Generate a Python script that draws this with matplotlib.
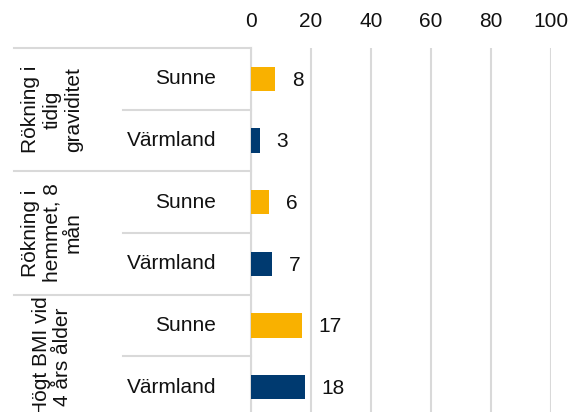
import matplotlib
matplotlib.use("Agg")
import matplotlib.pyplot as plt

plt.rcParams['font.family'] = ['Liberation Sans', 'DejaVu Sans']

groups = ["Rökning i\ntidig\ngraviditet", "Rökning i\nhemmet, 8\nmån", "Högt BMI vid\n4 års ålder"]
regions = ["Sunne", "Värmland"]
values = [8, 3, 6, 7, 17, 18]
colors = ["#F9B100", "#003A70"]
xticks = [0, 20, 40, 60, 80, 100]

W, H = 570, 412
fig = plt.figure(figsize=(W / 100, H / 100), dpi=100)

top = 1 - 48 / H
bottom = 1 - 418 / H
left = 251 / W
right = 551 / W
grid_c = "#D9D9D9"
txt_c = "#111111"
fs = 15

ax = fig.add_axes([left, bottom, right - left, top - bottom])
n = len(values)
ypos = list(range(n))
bar_colors = [colors[i % 2] for i in range(n)]
ax.barh(ypos, values, height=0.39, color=bar_colors, zorder=3)
for y, v in zip(ypos, values):
    ax.annotate(str(v), (v, y), xytext=(12, -1), textcoords="offset points",
                ha="left", va="center", fontsize=fs, color=txt_c)

ax.set_xlim(0, 100)
ax.set_ylim(n - 0.5, -0.5)
ax.xaxis.tick_top()
ax.set_xticks(xticks)
ax.tick_params(axis="x", length=0, pad=12, labelsize=fs, colors=txt_c)
ax.set_yticks([])
ax.grid(axis="x", color=grid_c, lw=1.5, zorder=0)
for s in ["top", "right", "bottom"]:
    ax.spines[s].set_visible(False)
ax.spines["left"].set_color(grid_c)
ax.spines["left"].set_linewidth(1.5)

# category table on the left
lab = fig.add_axes([0, bottom, left, top - bottom])
lab.set_xlim(0, 251)
lab.set_ylim(n - 0.5, -0.5)
lab.axis("off")
for g, name in enumerate(groups):
    y0 = g * 2 - 0.5
    lab.plot([14, 251], [y0, y0], color=grid_c, lw=1.5, clip_on=False)
    lab.plot([123, 251], [y0 + 1, y0 + 1], color=grid_c, lw=1.5, clip_on=False)
    lab.text(52, y0 + 1, name, rotation=90, ha="center", va="center",
             fontsize=fs, color=txt_c, linespacing=1.15)
    for k, r in enumerate(regions):
        lab.text(216, g * 2 + k, r, ha="right", va="center", fontsize=fs, color=txt_c)

fig.savefig("out.png", dpi=100)
